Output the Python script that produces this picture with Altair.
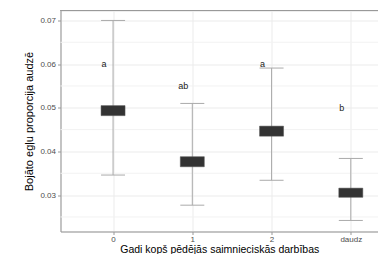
import altair as alt
import pandas as pd

categories = ["0", "1", "2", "daudz"]
positions = [0, 1, 2, 3]
box_low = [0.0482, 0.0365, 0.0435, 0.0295]
box_high = [0.0505, 0.0388, 0.0458, 0.0316]
whisk_low = [0.0346, 0.0277, 0.0334, 0.0242]
whisk_high = [0.0700, 0.0510, 0.0591, 0.0384]
letters = ["a", "ab", "a", "b"]
letter_y = [0.060, 0.055, 0.060, 0.050]
y_major = [0.03, 0.04, 0.05, 0.06, 0.07]
y_minor = [0.025, 0.035, 0.045, 0.055, 0.065]

df = pd.DataFrame({
    "pos": positions, "cat": categories,
    "lo": box_low, "hi": box_high,
    "wlo": whisk_low, "whi": whisk_high,
    "lab": letters, "laby": letter_y,
})
minor_df = pd.DataFrame({"v": y_minor})

W, H = 317.5, 221.0
FONT = "Liberation Sans"
xs = alt.Scale(domain=[-0.6, 3.28], nice=False, zero=False)
ys = alt.Scale(domain=[0.02167, 0.07228], nice=False, zero=False)

label_expr = "[" + ",".join("'%s'" % c for c in categories) + "][datum.value]"

xaxis = alt.Axis(values=positions, labelExpr=label_expr, title="Gadi kopš pēdējās saimnieciskās darbības",
                 grid=True, gridColor="#ebebeb", domainColor="#999999", tickColor="#999999",
                 tickSize=3, labelPadding=1, labelFontSize=8, labelColor="#4d4d4d", labelFont=FONT,
                 titleFont=FONT, titleFontSize=10.5, titleFontWeight="normal", titleColor="#000000",
                 titlePadding=1)
yaxis = alt.Axis(values=y_major, format=".2f", title="Bojāto egļu proporcija audzē",
                 grid=True, gridColor="#ebebeb", domainColor="#999999", tickColor="#999999",
                 tickSize=3, labelPadding=2, labelFontSize=8, labelColor="#4d4d4d", labelFont=FONT,
                 titleFont=FONT, titleFontSize=11, titleFontWeight="normal", titleColor="#000000",
                 titlePadding=5)

base = alt.Chart(df)

minor = alt.Chart(minor_df).mark_rule(color="#f2f2f2", strokeWidth=1).encode(
    y=alt.Y("v:Q", scale=ys, axis=yaxis),
)
whisk = base.mark_rule(color="#aaaaaa", strokeWidth=1).encode(
    x=alt.X("pos:Q", scale=xs, axis=xaxis),
    y=alt.Y("wlo:Q", scale=ys),
    y2="whi:Q",
)
cap_hi = base.mark_tick(orient="horizontal", size=24, thickness=1, color="#aaaaaa", opacity=1).encode(
    x=alt.X("pos:Q", scale=xs), y=alt.Y("whi:Q", scale=ys))
cap_lo = base.mark_tick(orient="horizontal", size=24, thickness=1, color="#aaaaaa", opacity=1).encode(
    x=alt.X("pos:Q", scale=xs), y=alt.Y("wlo:Q", scale=ys))
box = base.mark_bar(width=24, color="#333333", stroke="#555555", strokeWidth=0.5).encode(
    x=alt.X("pos:Q", scale=xs), y=alt.Y("lo:Q", scale=ys), y2="hi:Q")
text = base.mark_text(dx=-9, fontSize=9, font=FONT, color="#1a1a1a").encode(
    x=alt.X("pos:Q", scale=xs), y=alt.Y("laby:Q", scale=ys), text="lab:N")
top = base.mark_rule(color="#999999", strokeWidth=1).encode(
    x=alt.value(0), x2=alt.value(W), y=alt.value(0))

chart = alt.layer(minor, whisk, cap_hi, cap_lo, box, text, top).properties(
    width=W, height=H,
    autosize=alt.AutoSizeParams(type="none"),
    padding={"left": 52.5, "top": 2.5, "right": 0, "bottom": 22.5},
).configure_view(stroke=None).configure(background="white")

chart.save("out.html", embed_options={"renderer": "svg", "actions": False})
